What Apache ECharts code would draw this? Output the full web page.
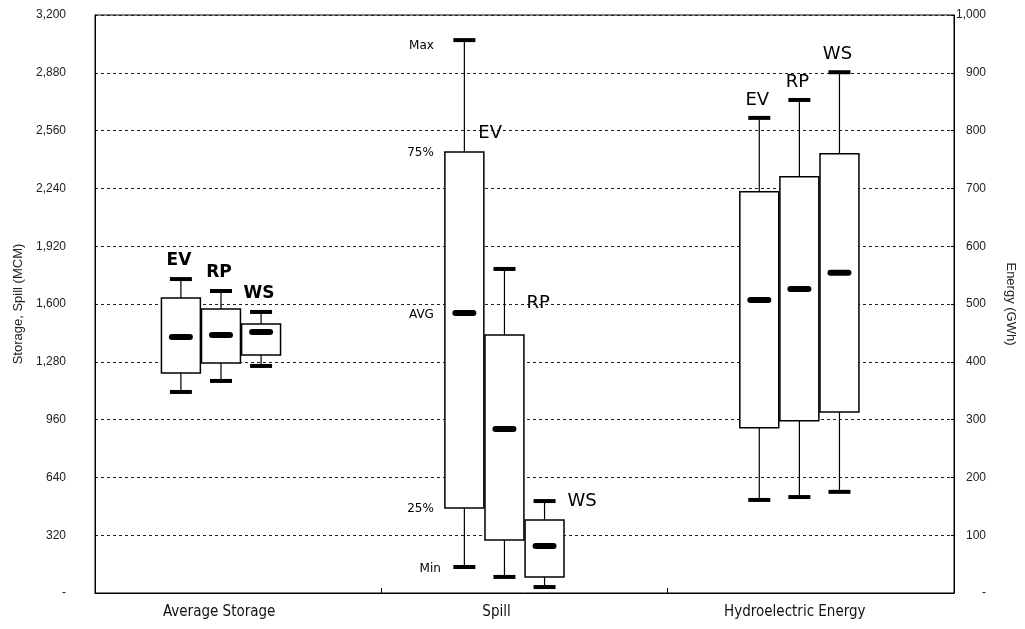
<!DOCTYPE html>
<html>
<head>
<meta charset="utf-8">
<script src="https://cdn.jsdelivr.net/npm/echarts@6/dist/echarts.min.js"></script>
<style>
  html, body { margin: 0; padding: 0; background: #fff; }
  #chart { width: 1025px; height: 629px; }
</style>
</head>
<body>
<div id="chart"></div>
<script>
// Groups along the x axis and the three scenarios inside each group
const categories = ['Average Storage', 'Spill', 'Hydroelectric Energy'];
const scenarios = ['EV', 'RP', 'WS'];

// Statistics per scenario: [min, 25%, average, 75%, max]
const storageStats = [
  [1113, 1218, 1417, 1633, 1738],
  [1174, 1273, 1428, 1572, 1672],
  [1257, 1318, 1445, 1489, 1556]
];
const spillStats = [
  [144, 471, 1550, 2441, 3061],
  [89, 293, 908, 1428, 1794],
  [33, 89, 260, 404, 509]
];
// Energy is read on the right axis (GWh)
const energyStats = [
  [161, 286, 507, 694, 822],
  [166, 298, 526, 720, 853],
  [175, 313, 554, 760, 901]
];

// Names of the five statistics, written beside the first spill box
const statNames = ['Min', '25%', 'AVG', '75%', 'Max'];

// Axis ranges
const leftMax = 3200, leftStep = 320;
const rightMax = 1000, rightStep = 100;

// ---- layout constants ----
const groupShift = [-0.06, -0.07, -0.04];   // group offset from band centre (x units)
const slotStep = 0.14;                      // distance between scenario boxes
const boxWidth = 0.136;                     // box width in x units
const catLabelShift = [38, 56, 32];         // right padding that moves each category label left
const scenarioFont = [
  { fontSize: 17, fontWeight: 'bold' },
  { fontSize: 18, fontWeight: 'normal' },
  { fontSize: 18, fontWeight: 'normal' }
];
// spill labels sit to the right of the whisker: [dx from centre, dy from 75% edge]
const spillLabelOffset = [[14, -19], [22, -32], [23, -19]];

function fmt(v) {
  return v === 0 ? '-' : v.toLocaleString('en-US');
}

function buildData(stats, catIdx) {
  return stats.map((s, i) => {
    const x = catIdx + 0.5 + groupShift[catIdx] + (i - 1) * slotStep;
    return [x].concat(s).concat([i]);
  });
}

function makeRender(catIdx) {
  return function (params, api) {
    const x = api.value(0);
    const vMin = api.value(1), vQ1 = api.value(2), vAvg = api.value(3),
          vQ3 = api.value(4), vMax = api.value(5);
    const si = api.value(6);
    const pMin = api.coord([x, vMin]);
    const pQ1 = api.coord([x, vQ1]);
    const pAvg = api.coord([x, vAvg]);
    const pQ3 = api.coord([x, vQ3]);
    const pMax = api.coord([x, vMax]);
    const cx = pMin[0];
    const hw = api.size([boxWidth, 0])[0] / 2;
    const capW = 22, capH = 4, avgW = 24, avgH = 6;
    const children = [];

    // whiskers
    children.push({ type: 'line', shape: { x1: cx, y1: pMax[1], x2: cx, y2: pQ3[1] },
      style: { stroke: '#000', lineWidth: 1.2 } });
    children.push({ type: 'line', shape: { x1: cx, y1: pQ1[1], x2: cx, y2: pMin[1] },
      style: { stroke: '#000', lineWidth: 1.2 } });
    // caps
    children.push({ type: 'rect', shape: { x: cx - capW / 2, y: pMax[1] - capH / 2, width: capW, height: capH },
      style: { fill: '#000' } });
    children.push({ type: 'rect', shape: { x: cx - capW / 2, y: pMin[1] - capH / 2, width: capW, height: capH },
      style: { fill: '#000' } });
    // box
    children.push({ type: 'rect', shape: { x: cx - hw, y: pQ3[1], width: hw * 2, height: pQ1[1] - pQ3[1] },
      style: { fill: '#fff', stroke: '#000', lineWidth: 1.5 } });
    // average marker
    children.push({ type: 'rect', shape: { x: cx - avgW / 2, y: pAvg[1] - avgH / 2, width: avgW, height: avgH, r: 3 },
      style: { fill: '#000' } });

    // scenario label
    let lx, ly, align;
    if (catIdx === 1) {
      lx = cx + spillLabelOffset[si][0];
      ly = pQ3[1] + spillLabelOffset[si][1];
      align = 'left';
    } else {
      lx = cx - 2;
      ly = pMax[1] - 18;
      align = 'center';
    }
    children.push({ type: 'text', x: lx, y: ly,
      style: { text: scenarios[si], fill: '#000', fontFamily: 'DejaVu Sans',
        fontSize: scenarioFont[catIdx].fontSize, fontWeight: scenarioFont[catIdx].fontWeight,
        align: align, verticalAlign: 'middle' } });

    // statistic names beside the first spill box
    if (catIdx === 1 && si === 0) {
      const vals = [vMin, vQ1, vAvg, vQ3, vMax];
      const dx = [-4, -11, -11, -11, -11];
      const dy = [2, 1, 2, 1, 6];
      vals.forEach((v, k) => {
        const p = api.coord([x, v]);
        children.push({ type: 'text', x: cx - hw + dx[k], y: p[1] + dy[k],
          style: { text: statNames[k], fill: '#000', fontFamily: 'DejaVu Sans', fontSize: 12,
            align: 'right', verticalAlign: 'middle' } });
      });
    }
    return { type: 'group', children: children };
  };
}

const chart = echarts.init(document.getElementById('chart'));
const tickFont = { fontFamily: 'Liberation Sans', fontSize: 12, color: '#222' };
const catStyle = { fontFamily: 'DejaVu Sans Condensed', fontSize: 15, color: '#111' };

chart.setOption({
  animation: false,
  backgroundColor: '#fff',
  grid: { left: 95, right: 67, top: 15, bottom: 36, show: true, borderColor: '#000', borderWidth: 1 },
  xAxis: [
    {
      type: 'category',
      data: categories,
      boundaryGap: true,
      axisLine: { lineStyle: { color: '#000', width: 1 } },
      axisTick: { show: true, inside: true, length: 5, lineStyle: { color: '#000' } },
      axisLabel: {
        margin: 12,
        formatter: function (v) {
          const i = categories.indexOf(v);
          return '{c' + i + '|' + v + '}';
        },
        rich: {
          c0: Object.assign({ padding: [0, catLabelShift[0], 0, 0] }, catStyle),
          c1: Object.assign({ padding: [0, catLabelShift[1], 0, 0] }, catStyle),
          c2: Object.assign({ padding: [0, catLabelShift[2], 0, 0] }, catStyle)
        }
      },
      splitLine: { show: false }
    },
    { type: 'value', min: 0, max: categories.length, show: false }
  ],
  yAxis: [
    {
      type: 'value', min: 0, max: leftMax, interval: leftStep,
      name: 'Storage, Spill (MCM)', nameLocation: 'middle', nameGap: 70, nameRotate: 90,
      nameTextStyle: { fontFamily: 'Liberation Sans', fontSize: 13, color: '#222' },
      axisLine: { show: true, lineStyle: { color: '#000' } },
      axisTick: { show: false },
      axisLabel: Object.assign({ margin: 29, formatter: fmt }, tickFont),
      splitLine: { show: true, lineStyle: { color: '#222', type: [3, 3], width: 1 } }
    },
    {
      type: 'value', min: 0, max: rightMax, interval: rightStep, position: 'right',
      name: 'Energy (GWh)', nameLocation: 'middle', nameGap: 50, nameRotate: -90,
      nameTextStyle: { fontFamily: 'Liberation Sans', fontSize: 13, color: '#222' },
      axisLine: { show: true, lineStyle: { color: '#000' } },
      axisTick: { show: true, inside: true, length: 3, lineStyle: { color: '#000' } },
      axisLabel: Object.assign({ margin: 32, align: 'right', formatter: fmt }, tickFont),
      splitLine: { show: false }
    }
  ],
  series: [
    { type: 'custom', xAxisIndex: 1, yAxisIndex: 0, renderItem: makeRender(0), data: buildData(storageStats, 0), clip: false },
    { type: 'custom', xAxisIndex: 1, yAxisIndex: 0, renderItem: makeRender(1), data: buildData(spillStats, 1), clip: false },
    { type: 'custom', xAxisIndex: 1, yAxisIndex: 1, renderItem: makeRender(2), data: buildData(energyStats, 2), clip: false }
  ]
});
</script>
</body>
</html>
